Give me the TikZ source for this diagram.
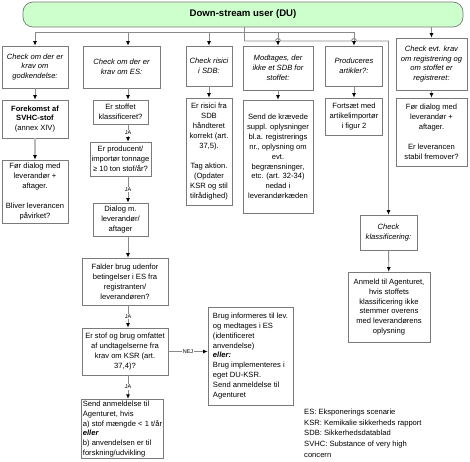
\documentclass[tikz,border=0pt]{standalone}
\usepackage{fontspec}
\setmainfont{Liberation Sans}
\usetikzlibrary{arrows.meta}
\definecolor{lgreen}{HTML}{CCFFCC}
\definecolor{linegray}{HTML}{8A8A8A}
\definecolor{boxgray}{HTML}{7A7A7A}
\begin{document}
\begin{tikzpicture}[x=1pt,y=-1pt,
  box/.style={draw=boxgray, line width=0.7pt, fill=white, align=center, inner sep=1.5pt, font=\fontsize{7.6}{9.9}\selectfont},
  ibox/.style={box, font=\fontsize{7.6}{9.9}\selectfont\itshape},
  lbox/.style={box, align=left},
  conn/.style={draw=linegray, line width=0.9pt},
  arr/.style={conn, -{Latex[color=black,length=4.5pt,width=4pt]}},
  lab/.style={fill=white, inner sep=0.8pt, font=\fontsize{5.5}{6}\selectfont},
]
\useasboundingbox[fill=white] (0,0) rectangle (470,461);

\node[box, minimum width=440, minimum height=25, rounded corners=10pt, fill=lgreen, font=\bfseries\fontsize{9.6}{11}\selectfont] (du) at (243,14.5) {Down-stream user (DU)};

% column 1
\node[ibox, minimum width=66, minimum height=42] (c1a) at (35,67) {Check om der er\\krav om\\godkendelse:};
\node[box, minimum width=66, minimum height=38] (c1b) at (35,119) {\textbf{Forekomst af}\\\textbf{SVHC-stof}\\(annex XIV)};
\node[box, minimum width=66, minimum height=63] (c1c) at (35,191.5) {Før dialog med\\leverandør +\\aftager.\\[9.9pt]Bliver leverancen\\påvirket?};

% column 2
\coordinate (colx) at (128,0);
\node[ibox, minimum width=77, minimum height=42] (c2a) at (121.5,67) {Check om der er\\krav om ES:};
\node[box, minimum width=55, minimum height=24] (c2b) at (120.5,112) {Er stoffet\\klassificeret?};
\node[box, minimum width=55, minimum height=34] (c2c) at (120.5,159) {Er producent/\\importør tonnage\\≥ 10 ton stof/år?};
\node[box, minimum width=55, minimum height=33] (c2d) at (120.5,219.5) {Dialog m.\\leverandør/\\aftager};
\node[box, minimum width=86, minimum height=47] (c2e) at (125,281.5) {Falder brug udenfor\\betingelser i ES fra\\registranten/\\leverandøren?};
\node[box, minimum width=86, minimum height=47] (c2f) at (125,351.5) {Er stof og brug omfattet\\af undtagelserne fra\\krav om KSR (art.\\37,4)?};
\node[lbox, minimum width=81, minimum height=58] (c2g) at (122.5,429) {Send anmeldelse til\\Agenturet, hvis\\a) stof mængde < 1 t/år\\\textbf{\textit{eller}}\\b) anvendelsen er til\\forskning/udvikling};
\node[lbox, minimum width=85, minimum height=98] (nej) at (250.5,356) {Brug informeres til lev.\\og medtages i ES\\(identificeret\\anvendelse)\\\textbf{\textit{eller:}}\\Brug implementeres i\\eget DU-KSR.\\Send anmeldelse til\\Agenturet};

% column 3
\node[ibox, minimum width=46, minimum height=40] (c3a) at (209,66) {Check risici\\i SDB:};
\node[box, minimum width=46, minimum height=107] (c3b) at (209,151.5) {Er risici fra\\SDB\\håndteret\\korrekt (art.\\37,5).\\[9.9pt]Tag aktion.\\(Opdater\\KSR og stil\\tilrådighed)};

% column 4
\node[ibox, minimum width=70, minimum height=44] (c4a) at (278,68) {Modtages, der\\ikke et SDB for\\stoffet:};
\node[box, minimum width=70, minimum height=113] (c4b) at (278,156.5) {Send de krævede\\suppl. oplysninger\\bl.a. registrerings\\nr., oplysning om\\evt.\\begrænsninger,\\etc. (art. 32-34)\\nedad i\\leverandørkæden};

% column 5
\node[ibox, minimum width=57, minimum height=40] (c5a) at (354,66) {Produceres\\artikler?:};
\node[box, minimum width=57, minimum height=37] (c5b) at (354,116.5) {Fortsæt med\\artikelimportør\\i figur 2};

% column 6
\node[ibox, minimum width=71, minimum height=52] (c6a) at (431.5,64) {Check evt. krav\\om registrering og\\om stoffet er\\registreret:};
\node[box, minimum width=71, minimum height=68] (c6b) at (431.5,132) {Før dialog med\\leverandør +\\aftager.\\[9.9pt]Er leverancen\\stabil fremover?};

% classification
\node[ibox, minimum width=57, minimum height=35] (c7a) at (388.5,232.5) {Check\\klassificering:};
\node[box, minimum width=82, minimum height=70] (c7b) at (389,307) {Anmeld til Agenturet,\\hvis stoffets\\klassificering ikke\\stemmer overens\\med leverandørens\\oplysning};

% legend
\node[anchor=north west, align=left, inner sep=0pt, font=\fontsize{7.6}{10.6}\selectfont] (legend) at (304,409) {ES: Eksponerings scenarie\\KSR: Kemikalie sikkerheds rapport\\SDB: Sikkerhedsdatablad\\SVHC: Substance of very high\\concern};

% top connectors
\coordinate (t1) at (244,32);
\coordinate (t2) at (244,41);
\draw[conn] (du.south -| t1) -- (t2);
\draw[conn] (t1 -| c1a) -- (t1 -| c5a);
\draw[arr] (t1 -| c1a) -- (c1a);
\draw[arr] (t1 -| colx) -- (c2a.north -| colx);
\draw[arr] (t1 -| c3a) -- (c3a);
\draw[arr] (t1 -| c4a) -- (c4a);
\draw[arr] (t1 -| c5a) -- (c5a);
\draw[arr] (t2) -- (275.5,41) arc (180:360:2.5) -- (351.5,41) arc (180:360:2.5) -- (t2 -| c7a) -- (c7a);
\draw[arr] (du.south -| c6a) -- (c6a);

% column arrows
\draw[arr] (c1a) -- (c1b);
\draw[conn, draw=gray!55, line width=2pt, -{Latex[color=black,length=4.5pt,width=4pt]}] (c1b) -- (c1c);
\draw[arr] (c2a.south -| colx) -- (c2b.north -| colx);
\draw[arr] (c2b.south -| colx) -- node[lab]{JA} (c2c.north -| colx);
\draw[arr] (c2c.south -| colx) -- node[lab]{JA} (c2d.north -| colx);
\draw[arr] (c2d.south -| colx) -- (c2e.north -| colx);
\draw[arr] (c2e.south -| colx) -- node[lab]{JA} (c2f.north -| colx);
\draw[arr] (c2f.south -| colx) -- node[lab]{JA} (c2g.north -| colx);
\draw[arr] (c2f.east) -- node[lab]{NEJ} (c2f.east -| nej.west);
\draw[arr] (c3a) -- (c3b);
\draw[arr] (c4a) -- (c4b);
\draw[arr] (c5a) -- (c5b);
\draw[arr] (c6a) -- (c6b);
\draw[arr] (c7a) -- (c7b);
\end{tikzpicture}
\end{document}
